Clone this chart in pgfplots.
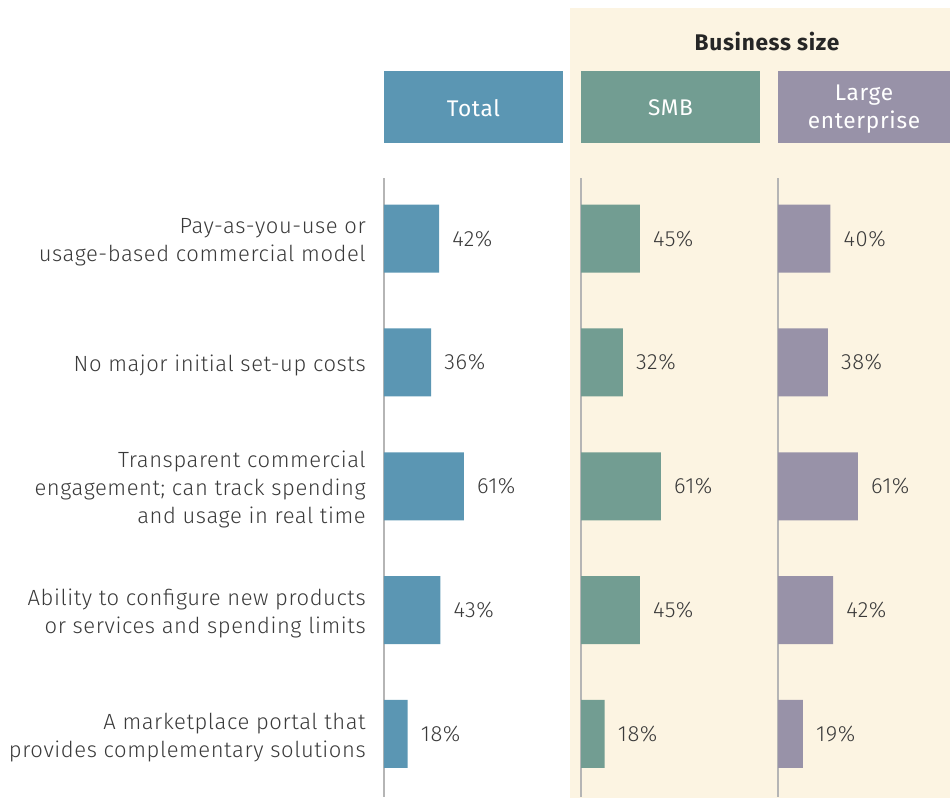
\documentclass[border=0pt]{standalone}
\usepackage{pgfplots}
\pgfplotsset{compat=1.18}
\usepackage{pgfplotstable}
\usepackage{fontspec}
\setmainfont{Fira Sans Light}[LetterSpace=2.6, BoldFont=Fira Sans]
\newfontfamily\headfam{Fira Sans}[LetterSpace=3]

\definecolor{cTotal}{HTML}{5B96B3}
\definecolor{cSMB}{HTML}{729D92}
\definecolor{cLarge}{HTML}{9892A8}
\definecolor{cPanel}{HTML}{FCF4E2}
\definecolor{cText}{HTML}{3A3A3A}
\definecolor{cAxis}{HTML}{B5B5B5}

\newcommand\catfont{\fontsize{16.5pt}{21pt}\selectfont}
\newcommand\headfont{\headfam\fontsize{17pt}{21pt}\selectfont}

% share of respondents, categories top to bottom
\pgfplotstableread{
idx total smb large
0 42 45 40
1 36 32 38
2 61 61 61
3 43 45 42
4 18 18 19
}\shares

\pgfplotsset{
  panel/.style={
    xbar, scale only axis,
    width=127.725pt, height=464.25pt,
    xmin=0, xmax=130,
    ymin=-0.49, ymax=4.51, y dir=reverse,
    bar width=51pt, bar shift=0pt,
    axis x line=none, axis y line*=left,
    y axis line style={cAxis, line width=1.5pt},
    ytick={0,...,4}, yticklabels={}, major tick length=0pt,
    clip=false,
    /pgf/number format/assume math mode=true,
    nodes near coords={\pgfmathprintnumber{\pgfplotspointmeta}\%},
    every node near coord/.append style={font=\catfont, text=cText,
      inner sep=0pt, anchor=west, xshift=9.75pt},
  },
}

\begin{document}
\begin{tikzpicture}
\useasboundingbox (0,0) rectangle (712.5pt,-598.5pt);
\begin{scope}[x=0.75pt, y=-0.75pt]
  \fill[cPanel] (570,8) rectangle (950,798);
\end{scope}

\begin{axis}[panel, at={(288pt,-597.75pt)},
  yticklabels={{Pay-as-you-use or\\usage-based commercial model},
    {No major initial set-up costs},
    {Transparent commercial\\engagement; can track spending\\and usage in real time},
    {Ability to configure new products\\or services and spending limits},
    {A marketplace portal that\\provides complementary solutions}},
  yticklabel style={align=right, font=\catfont, text=cText, inner sep=0pt,
    anchor=east, xshift=-13.5pt, yshift=-2.5pt},
]
\addplot[draw=none, fill=cTotal] table[x=total, y=idx] {\shares};
\end{axis}

\begin{axis}[panel, at={(435.75pt,-597.75pt)}]
\addplot[draw=none, fill=cSMB] table[x=smb, y=idx] {\shares};
\end{axis}

\begin{axis}[panel, at={(583.5pt,-597.75pt)}]
\addplot[draw=none, fill=cLarge] table[x=large, y=idx] {\shares};
\end{axis}

\begin{scope}[x=0.75pt, y=-0.75pt]
  \node[font=\headfont\bfseries, text=black!85] at (767,42) {Business size};
  \fill[cTotal] (384,71) rectangle (563,143);
  \fill[cSMB] (581,71) rectangle (760,143);
  \fill[cLarge] (778,71) rectangle (950,143);
  \node[font=\headfont, text=white] at (473.5,108) {Total};
  \node[font=\headfont, text=white] at (670.5,108) {SMB};
  \node[font=\headfont, text=white, align=center] at (864,109) {Large\\enterprise};
\end{scope}
\end{tikzpicture}
\end{document}
